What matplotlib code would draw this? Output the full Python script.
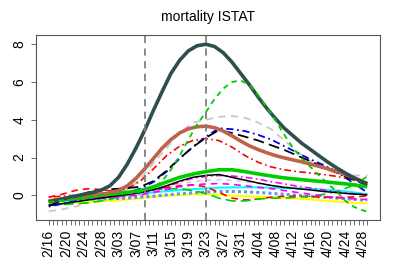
import matplotlib
matplotlib.use("Agg")
import matplotlib.pyplot as plt
import pandas as pd

plt.rcParams['font.family'] = ['Liberation Sans', 'DejaVu Sans']

# ---------------- data ----------------
title = "mortality ISTAT"
start_date = "2020-02-16"
end_date = "2020-04-29"
event_dates = ["2020-03-09", "2020-03-23"]

# sampling dates (every 3 days) for the thinner series
dates_coarse = ["2/16", "2/19", "2/22", "2/25", "2/28", "3/02", "3/05", "3/08",
                "3/11", "3/14", "3/17", "3/20", "3/23", "3/26", "3/29", "4/01",
                "4/04", "4/07", "4/10", "4/13", "4/16", "4/19", "4/22", "4/25",
                "4/28", "4/29"]
# sampling dates (every 2 days) for the most prominent series
dates_fine = ["2/16", "2/18", "2/20", "2/22", "2/24", "2/26", "2/28", "3/01",
              "3/03", "3/05", "3/07", "3/09", "3/11", "3/13", "3/15", "3/17",
              "3/19", "3/21", "3/23", "3/25", "3/27", "3/29", "3/31", "4/02",
              "4/04", "4/06", "4/08", "4/10", "4/12", "4/14", "4/16", "4/18",
              "4/20", "4/22", "4/24", "4/26", "4/28", "4/29"]

s_darkslate = [-0.35, -0.25, -0.15, -0.05, 0.05, 0.15, 0.27, 0.5, 0.95, 1.65,
               2.5, 3.45, 4.5, 5.5, 6.45, 7.15, 7.65, 7.92, 8.0, 7.88,
               7.55, 7.05, 6.45, 5.85, 5.2, 4.6, 4.05, 3.55, 3.15, 2.75,
               2.42, 2.08, 1.75, 1.45, 1.17, 0.92, 0.7, 0.6]
s_sienna = [-0.3, -0.23, -0.16, -0.1, -0.04, 0.0, 0.05, 0.12, 0.25, 0.5,
            0.9, 1.4, 1.95, 2.5, 2.95, 3.3, 3.52, 3.63, 3.66, 3.58,
            3.4, 3.15, 2.87, 2.62, 2.42, 2.25, 2.1, 1.98, 1.87, 1.77,
            1.65, 1.53, 1.4, 1.27, 1.1, 0.92, 0.72, 0.63]
s_green_big = [-0.35, -0.3, -0.25, -0.2, -0.12, -0.05, 0.0, 0.04, 0.08, 0.1,
               0.15, 0.25, 0.4, 0.75, 1.35, 2.1, 2.95, 3.75, 4.4, 5.1,
               5.65, 6.0, 6.08, 5.85, 5.3, 4.65, 3.95, 3.2, 2.5, 1.95,
               1.5, 1.05, 0.6, 0.2, -0.3, -0.62, -0.8, -0.87]

s_green_thick = [-0.3, -0.25, -0.18, -0.1, 0.0, 0.08, 0.15, 0.25, 0.45, 0.7, 0.95, 1.12, 1.25,
                 1.35, 1.35, 1.25, 1.13, 1.02, 0.92, 0.85, 0.78, 0.72, 0.65, 0.58, 0.48, 0.45]
s_black_solid = [-0.55, -0.45, -0.35, -0.25, -0.15, -0.05, 0.05, 0.15, 0.3, 0.5, 0.75, 0.95, 1.05,
                 1.1, 0.95, 0.8, 0.65, 0.52, 0.42, 0.35, 0.28, 0.2, 0.14, 0.08, 0.04, 0.02]
s_black_dash = [-0.55, -0.3, -0.05, 0.15, 0.28, 0.33, 0.38, 0.45, 0.75, 1.3, 1.95, 2.55, 3.05,
                3.45, 3.3, 3.1, 2.9, 2.65, 2.4, 2.1, 1.8, 1.5, 1.2, 0.9, 0.62, 0.55]
s_blue_dotdash = [-0.6, -0.45, -0.3, -0.15, -0.05, 0.05, 0.15, 0.35, 0.7, 1.25, 1.95, 2.55, 3.1,
                  3.55, 3.5, 3.4, 3.2, 2.95, 2.6, 2.25, 1.9, 1.6, 1.25, 0.78, 0.3, 0.15]
s_gray_dash = [-0.85, -0.75, -0.6, -0.4, -0.25, -0.05, 0.3, 0.85, 1.7, 2.5, 3.3, 3.85, 4.0,
               4.15, 4.2, 4.1, 3.85, 3.5, 2.9, 2.3, 1.8, 1.4, 1.15, 1.05, 1.05, 1.05]
s_red_dotdash = [-0.1, -0.05, 0.0, 0.05, 0.1, 0.15, 0.35, 0.75, 1.4, 2.1, 2.6, 2.9, 3.0,
                 2.9, 2.55, 2.1, 1.75, 1.5, 1.35, 1.25, 1.18, 1.1, 1.0, 0.85, 0.68, 0.65]
s_magenta_dotdash = [-0.35, -0.3, -0.25, -0.2, -0.15, -0.1, 0.0, 0.1, 0.25, 0.45, 0.7, 0.9, 1.0,
                     1.05, 1.02, 0.95, 0.85, 0.72, 0.6, 0.48, 0.38, 0.28, 0.18, 0.1, 0.05, 0.03]
s_magenta_dash = [-0.3, -0.27, -0.23, -0.18, -0.12, -0.07, -0.03, 0.0, 0.15, 0.3, 0.45, 0.55, 0.6,
                  0.62, 0.58, 0.5, 0.42, 0.35, 0.25, 0.15, 0.05, -0.05, -0.12, -0.18, -0.22, -0.22]
s_cyan = [-0.3, -0.25, -0.18, -0.12, -0.06, 0.0, 0.05, 0.1, 0.15, 0.22, 0.28, 0.32, 0.36,
          0.4, 0.42, 0.42, 0.42, 0.4, 0.38, 0.36, 0.34, 0.3, 0.25, 0.18, 0.08, 0.05]
s_cornflower = [-0.3, -0.28, -0.25, -0.22, -0.2, -0.18, -0.15, -0.1, -0.05, 0.02, 0.08, 0.13, 0.17,
                0.2, 0.2, 0.18, 0.15, 0.1, 0.05, 0.0, -0.05, -0.1, -0.15, -0.2, -0.25, -0.25]
s_yellow = [-0.45, -0.42, -0.38, -0.35, -0.32, -0.28, -0.22, -0.15, -0.08, -0.02, 0.02, 0.05, 0.06,
            0.03, -0.02, -0.05, -0.08, -0.1, -0.13, -0.17, -0.22, -0.28, -0.33, -0.38, -0.42, -0.43]
s_red_dash = [-0.1, 0.05, 0.25, 0.35, 0.3, 0.2, 0.15, 0.2, 0.3, 0.4, 0.5, 0.55, 0.45,
              0.15, -0.15, -0.25, -0.2, -0.1, -0.05, -0.05, -0.08, -0.1, -0.12, -0.1, -0.05, -0.05]
s_green_dash = [-0.5, -0.5, -0.45, -0.4, -0.3, -0.15, 0.0, 0.15, 0.28, 0.35, 0.35, 0.25, 0.1,
                -0.15, -0.3, -0.3, -0.2, -0.15, -0.15, -0.1, -0.05, 0.05, 0.2, 0.45, 0.85, 1.0]
s_gray_low = [-0.5, -0.45, -0.4, -0.35, -0.3, -0.2, -0.1, 0.0, 0.2, 0.4, 0.6, 0.72, 0.8,
              0.82, 0.8, 0.72, 0.62, 0.52, 0.45, 0.38, 0.3, 0.25, 0.2, 0.15, 0.1, 0.1]

# (dates, values, colour, linewidth, dash pattern) ; None = solid
series = [
    (dates_coarse, s_gray_dash, "#C8C8C8", 1.3, (4, 3)),
    (dates_coarse, s_gray_low, "#D0D0D0", 1.2, (3, 3)),
    (dates_coarse, s_yellow, "#FFFF00", 1.5, None),
    (dates_coarse, s_cyan, "#00FFFF", 1.5, None),
    (dates_coarse, s_cornflower, "#6495ED", 2.2, (1, 1)),
    (dates_coarse, s_red_dash, "#FF0000", 1.2, (4, 3)),
    (dates_coarse, s_green_dash, "#00CD00", 1.2, (6, 3)),
    (dates_coarse, s_magenta_dash, "#FF00FF", 1.2, (4, 3)),
    (dates_coarse, s_magenta_dotdash, "#FF00FF", 1.2, (1, 2, 4, 2)),
    (dates_coarse, s_black_solid, "#000000", 1.1, None),
    (dates_coarse, s_red_dotdash, "#FF0000", 1.2, (1, 2, 4, 2)),
    (dates_coarse, s_blue_dotdash, "#0000FF", 1.3, (1, 2, 4, 2)),
    (dates_coarse, s_black_dash, "#000000", 1.3, (6, 3)),
    (dates_coarse, s_green_thick, "#00CD00", 2.6, None),
    (dates_fine, s_sienna, "#C0624A", 2.6, None),
    (dates_fine, s_darkslate, "#2F4F4F", 2.6, None),
    (dates_fine, s_green_big, "#00CD00", 1.3, (3, 2.5)),
]

# ---------------- figure ----------------
W, H = 399, 266
fig = plt.figure(figsize=(W / 100, H / 100), dpi=100)
ax = fig.add_axes([36 / W, 1 - 220 / H, (380 - 36) / W, (220 - 35) / H])

t0 = pd.Timestamp(start_date)


def to_day(s):
    return (pd.Timestamp("2020/" + s) - t0).days


for dts, vals, col, lw, dash in series:
    line, = ax.plot([to_day(d) for d in dts], vals, color=col, lw=lw,
                    solid_capstyle='butt', solid_joinstyle='round')
    if dash is not None:
        line.set_dashes(dash)

for ed in event_dates:
    ax.axvline((pd.Timestamp(ed) - t0).days, color="#808080", lw=1.3, dashes=(4, 3), zorder=5)

all_days = pd.date_range(start_date, end_date, freq="D")
n = len(all_days) - 1
ax.set_xlim(-0.04 * n, n * 1.04)
ax.set_ylim(-1.31, 8.49)

ax.set_xticks(range(len(all_days)))
ax.set_xticklabels([d.strftime("%-m/%d") if i % 4 == 0 else "" for i, d in enumerate(all_days)],
                   rotation=90, fontsize=10)
ax.set_yticks([0, 2, 4, 6, 8])
ax.set_yticklabels(["0", "2", "4", "6", "8"], rotation=90, va="center", fontsize=10)
ax.tick_params(axis="both", direction="out", length=3.5, width=0.6, color="#555555", pad=3.5)

for sp in ax.spines.values():
    sp.set_color("#555555")
    sp.set_linewidth(0.8)

fig.text((36 + 380) / 2 / W, 1 - 17 / H, title, ha="center", va="center", fontsize=10)

fig.savefig("out.png", dpi=100)
